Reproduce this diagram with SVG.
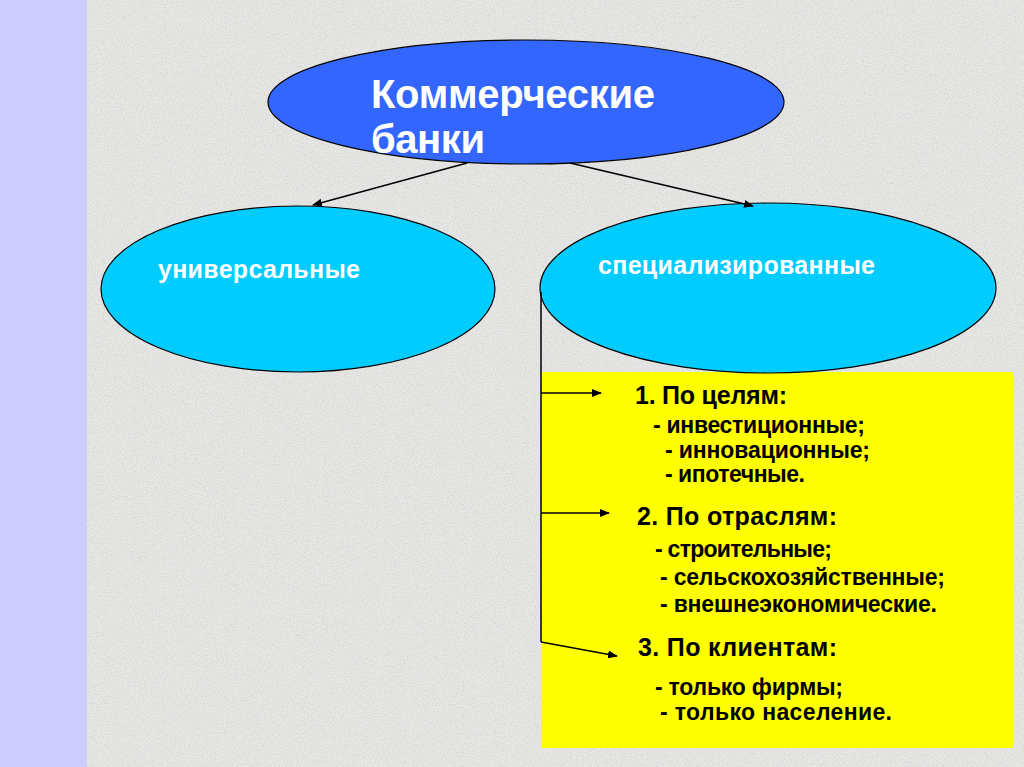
<svg xmlns="http://www.w3.org/2000/svg" width="1024" height="767" viewBox="0 0 1024 767">
<defs>
<style>
.t{font-family:"Liberation Sans",Arial,sans-serif;font-weight:bold}
.w{fill:#ffffff}
.k{fill:#000000}
.h{font-size:25px}
.s{font-size:23px}
.c{stroke:#000;stroke-width:1.5;fill:none}
</style>
<filter id="noise" x="0" y="0" width="100%" height="100%">
<feTurbulence type="fractalNoise" baseFrequency="0.9" numOctaves="2" seed="3" result="n"/>
<feColorMatrix in="n" type="matrix" values="0 0 0 0 0.55  0 0 0 0 0.55  0 0 0 0 0.55  0 0 0 1.3 -0.5" result="g"/>
<feComposite in="g" in2="SourceGraphic" operator="over"/>
</filter>
<marker id="ah" markerWidth="10" markerHeight="8" refX="9" refY="4" orient="auto" markerUnits="userSpaceOnUse">
<path d="M0,0 L10,4 L0,8 Z" fill="#000"/>
</marker>
</defs>
<rect x="87" y="0" width="937" height="767" fill="#e8e8e6" filter="url(#noise)"/>
<rect x="0" y="0" width="87" height="767" fill="#ccccff"/>
<g id="yellow-box">
<rect x="541" y="372" width="472" height="376" fill="#ffff00"/>
</g>
<g id="node-commercial">
<ellipse cx="526" cy="102" rx="258" ry="62" fill="#3366ff" stroke="#000" stroke-width="1.2"/>
<text class="t w" x="371" y="108" font-size="40" textLength="284" lengthAdjust="spacing">Коммерческие</text>
<text class="t w" x="371" y="153" font-size="40" textLength="114" lengthAdjust="spacing">банки</text>
</g>
<g id="node-universal">
<ellipse cx="298" cy="289" rx="197" ry="83" fill="#00ccff" stroke="#000" stroke-width="1.2"/>
<text class="t w" x="158" y="278" font-size="25" textLength="202" lengthAdjust="spacing">универсальные</text>
</g>
<g id="node-special">
<ellipse cx="768" cy="288" rx="228" ry="85" fill="#00ccff" stroke="#000" stroke-width="1.2"/>
<text class="t w" x="598" y="274" font-size="25" textLength="277" lengthAdjust="spacing">специализированные</text>
</g>
<g id="connectors">
<line class="c" x1="467" y1="163" x2="313" y2="205" marker-end="url(#ah)"/>
<line class="c" x1="570" y1="163" x2="753" y2="206" marker-end="url(#ah)"/>
<line class="c" x1="541" y1="292" x2="541" y2="642"/>
<line class="c" x1="541" y1="393" x2="601" y2="393" marker-end="url(#ah)"/>
<line class="c" x1="541" y1="513" x2="609" y2="513" marker-end="url(#ah)"/>
<line class="c" x1="541" y1="642" x2="617" y2="656" marker-end="url(#ah)"/>
</g>
<g id="list">
<text class="t k h" x="635" y="404" textLength="152" lengthAdjust="spacing">1. По целям:</text>
<text class="t k s" x="653" y="433" textLength="212" lengthAdjust="spacing">- инвестиционные;</text>
<text class="t k s" x="665" y="458" textLength="205" lengthAdjust="spacing">- инновационные;</text>
<text class="t k s" x="665" y="482" textLength="140" lengthAdjust="spacing">- ипотечные.</text>
<text class="t k h" x="637" y="525" textLength="200" lengthAdjust="spacing">2. По отраслям:</text>
<text class="t k s" x="655" y="557" textLength="177" lengthAdjust="spacing">- строительные;</text>
<text class="t k s" x="660" y="585" textLength="285" lengthAdjust="spacing">- сельскохозяйственные;</text>
<text class="t k s" x="660" y="612" textLength="277" lengthAdjust="spacing">- внешнеэкономические.</text>
<text class="t k h" x="638" y="656" textLength="199" lengthAdjust="spacing">3. По клиентам:</text>
<text class="t k s" x="655" y="695" textLength="188" lengthAdjust="spacing">- только фирмы;</text>
<text class="t k s" x="660" y="720" textLength="232" lengthAdjust="spacing">- только население.</text>
</g>
</svg>
